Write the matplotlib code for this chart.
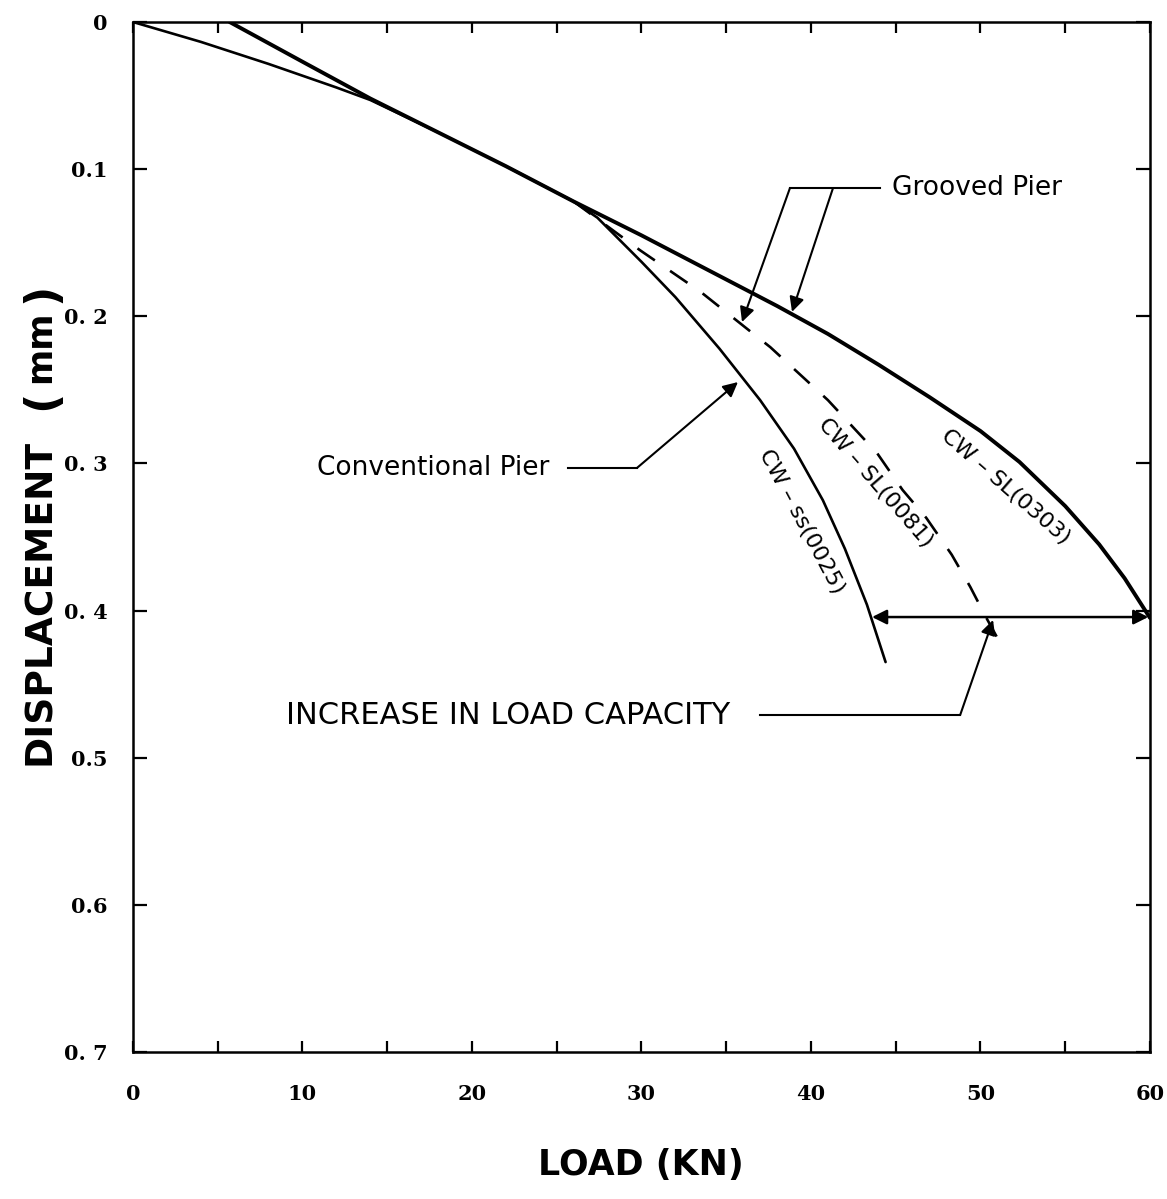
import matplotlib
matplotlib.use("Agg")
import matplotlib.pyplot as plt

# load (kN) vs displacement (mm)
load_0303 = [5.7, 10, 14, 18, 22, 26, 30, 34, 38, 41, 44, 47, 50, 52.3, 55, 57, 58.5, 60]
disp_0303 = [0.0, 0.027, 0.052, 0.075, 0.098, 0.122, 0.145, 0.169, 0.193, 0.212, 0.233,
             0.255, 0.278, 0.299, 0.329, 0.355, 0.378, 0.405]

load_0025 = [0, 4, 8, 12, 14, 18, 22, 26, 27.4, 30, 32, 34.6, 37, 39, 40.7, 42, 43.3, 44.4]
disp_0025 = [0.0, 0.0135, 0.0285, 0.0445, 0.053, 0.075, 0.098, 0.122, 0.133, 0.163, 0.187,
             0.222, 0.257, 0.290, 0.325, 0.358, 0.396, 0.435]

load_0081 = [26, 29.9, 33.5, 36.5, 37.6, 41, 43.9, 45.4, 46.8, 48.3, 49.4, 50.3, 51.3]
disp_0081 = [0.122, 0.155, 0.1835, 0.211, 0.221, 0.257, 0.293, 0.318, 0.337, 0.362,
             0.384, 0.404, 0.425]

x_ticks = [0, 10, 20, 30, 40, 50, 60]
x_minor = [5, 15, 25, 35, 45, 55]
y_ticks = [0, 0.1, 0.2, 0.3, 0.4, 0.5, 0.6, 0.7]
y_tick_labels = ["0", "0.1", "0. 2", "0. 3", "0. 4", "0.5", "0.6", "0. 7"]

W, H = 1167, 1199
fig = plt.figure(figsize=(W / 100, H / 100), dpi=100)
ax = fig.add_axes([133 / W, 1 - 1052 / H, (1150 - 133) / W, (1052 - 22) / H])

ax.plot(load_0025, disp_0025, color="black", lw=1.9, solid_capstyle="round")
ax.plot(load_0081, disp_0081, color="black", lw=1.9, linestyle=(0, (8, 7)))
ax.plot(load_0303, disp_0303, color="black", lw=2.8, solid_capstyle="round")

ax.set_xlim(0, 60)
ax.set_ylim(0.7, 0)
for s in ax.spines.values():
    s.set_linewidth(1.8)

ax.set_xticks(x_ticks)
ax.set_xticks(x_minor, minor=True)
ax.set_yticks(y_ticks)
ax.set_yticklabels(y_tick_labels)
ax.tick_params(which="both", direction="in", top=True, right=True, width=1.6)
ax.tick_params(axis="x", which="both", length=8, pad=23)
ax.tick_params(axis="y", length=10, pad=18)
for lab in ax.get_xticklabels() + ax.get_yticklabels():
    lab.set_fontfamily("DejaVu Serif")
    lab.set_fontweight("bold")
    lab.set_fontsize(15)

# axis titles (the parentheses are drawn bigger, as in the original)
lbl = dict(fontweight="bold", family="DejaVu Sans", color="black")
fig.text(641 / W, 1 - 1165 / H, "LOAD (KN)", ha="center", va="center",
         fontsize=25, **lbl)
fig.text(40 / W, 1 - 602 / H, "DISPLACEMENT", ha="center", va="center",
         rotation=90, fontsize=27, **lbl)
fig.text(42 / W, 1 - 400 / H, "(", ha="center", va="center", rotation=90,
         fontsize=32, **lbl)
fig.text(40 / W, 1 - 347 / H, "mm", ha="center", va="center", rotation=90,
         fontsize=25, **lbl)
fig.text(42 / W, 1 - 293 / H, ")", ha="center", va="center", rotation=90,
         fontsize=32, **lbl)

note = dict(family="DejaVu Sans", color="black")
arrow = dict(arrowstyle="-|>", lw=1.5, color="black", mutation_scale=22,
             shrinkA=0, shrinkB=0)

# Grooved pier leaders
ax.text(44.8, 0.1128, "Grooved Pier", ha="left", va="center", fontsize=19, **note)
ax.plot([38.76, 44.1], [0.1128, 0.1128], color="black", lw=1.5)
ax.annotate("", xy=(35.93, 0.2039), xytext=(38.76, 0.1128), arrowprops=arrow)
ax.annotate("", xy=(38.88, 0.197), xytext=(41.3, 0.1128), arrowprops=arrow)

# Conventional pier leader
ax.text(10.86, 0.3031, "Conventional Pier", ha="left", va="center", fontsize=19, **note)
ax.plot([25.66, 29.73], [0.3031, 0.3031], color="black", lw=1.5)
ax.annotate("", xy=(35.69, 0.2447), xytext=(29.73, 0.3031), arrowprops=arrow)

# increase in load capacity
ax.text(9.0, 0.471, "INCREASE IN LOAD CAPACITY", ha="left", va="center",
        fontsize=22, **note)
ax.plot([37.0, 48.8], [0.471, 0.471], color="black", lw=1.5)
ax.annotate("", xy=(50.74, 0.4064), xytext=(48.8, 0.471), arrowprops=arrow)
ax.annotate("", xy=(43.6, 0.4044), xytext=(59.9, 0.4044),
            arrowprops=dict(arrowstyle="<|-|>", lw=1.8, color="black",
                            mutation_scale=22, shrinkA=0, shrinkB=0))

# curve labels
ax.text(39.47, 0.3398, "CW – ss(0025)", rotation=-62, ha="center", va="center",
        rotation_mode="anchor", fontsize=16, **note)
ax.text(43.78, 0.3133, "CW – SL(0081)", rotation=-49, ha="center", va="center",
        rotation_mode="anchor", fontsize=16, **note)
ax.text(51.5, 0.316, "CW – SL(0303)", rotation=-41, ha="center", va="center",
        rotation_mode="anchor", fontsize=16, **note)

fig.savefig("out.png", dpi=100)
